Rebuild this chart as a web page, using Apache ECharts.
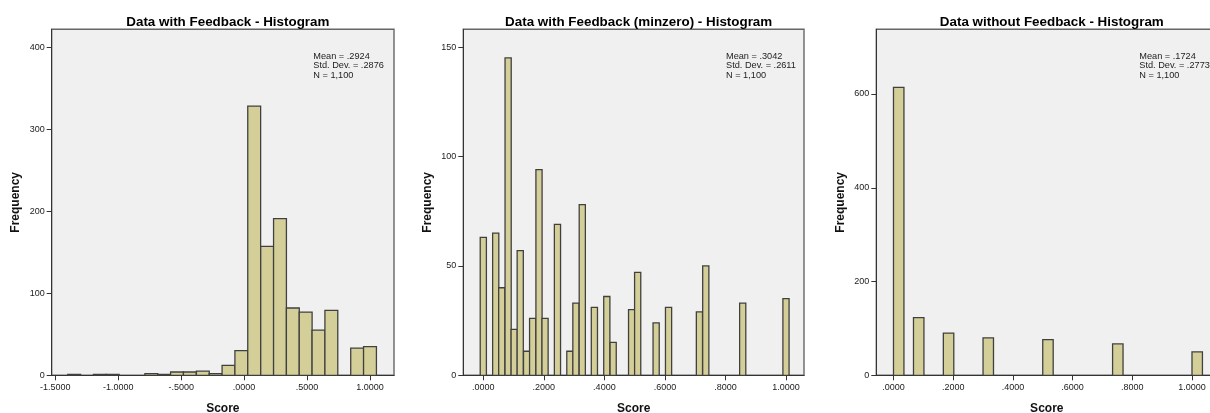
<!DOCTYPE html>
<html>
<head>
<meta charset="utf-8">
<script src="https://cdn.jsdelivr.net/npm/echarts@6/dist/echarts.min.js"></script>
<style>
html,body{margin:0;padding:0;background:#fff;}
#c{width:1210px;height:413px;}
</style>
</head>
<body>
<div id="c"></div>
<script>
// ---- Panel 1: Data with Feedback ----
var p1Title = 'Data with Feedback - Histogram';
var p1Centers = [-1.350, -1.146, -1.044, -0.737, -0.635, -0.533, -0.431, -0.328, -0.226, -0.124, -0.022, 0.080, 0.183, 0.285, 0.387, 0.489, 0.591, 0.693, 0.898, 1.000];
var p1Counts  = [1, 1, 1, 2, 1, 4, 4, 5, 2, 12, 30, 328, 157, 191, 82, 77, 55, 79, 33, 35];
var p1BinWidth = 0.1022;
var p1XTicks = [-1.5, -1.0, -0.5, 0, 0.5, 1.0];
var p1YTicks = [0, 100, 200, 300, 400];
var p1Stats = ['Mean = .2924', 'Std. Dev. = .2876', 'N = 1,100'];

// ---- Panel 2: Data with Feedback (minzero) ----
var p2Title = 'Data with Feedback (minzero) - Histogram';
var p2Centers = [0.000, 0.041, 0.061, 0.082, 0.102, 0.122, 0.143, 0.163, 0.184, 0.204, 0.245, 0.286, 0.306, 0.327, 0.367, 0.408, 0.429, 0.490, 0.510, 0.571, 0.612, 0.714, 0.735, 0.857, 1.000];
var p2Counts  = [63, 65, 40, 145, 21, 57, 11, 26, 94, 26, 69, 11, 33, 78, 31, 36, 15, 30, 47, 24, 31, 29, 50, 33, 35];
var p2BinWidth = 0.0204;
var p2XTicks = [0, 0.2, 0.4, 0.6, 0.8, 1.0];
var p2YTicks = [0, 50, 100, 150];
var p2Stats = ['Mean = .3042', 'Std. Dev. = .2611', 'N = 1,100'];

// ---- Panel 3: Data without Feedback ----
var p3Title = 'Data without Feedback - Histogram';
var p3Starts = [0.000, 0.067, 0.167, 0.300, 0.500, 0.734, 1.000];
var p3Counts = [614, 123, 90, 80, 76, 67, 50];
var p3BinWidth = 0.035;
var p3XTicks = [0, 0.2, 0.4, 0.6, 0.8, 1.0];
var p3YTicks = [0, 200, 400, 600];
var p3Stats = ['Mean = .1724', 'Std. Dev. = .2773', 'N = 1,100'];

var FONT = '"Liberation Sans", Arial, sans-serif';
var BAR_FILL = '#d4cf98';
var BAR_LINE = '#404040';

function fmtScore(v) {
  var s = Number(v).toFixed(4);
  return s.replace(/^(-?)0\./, '$1.');
}

var grids = [
  {left: 51.7, top: 29.3, width: 342.3, height: 346},
  {left: 463.3, top: 29.3, width: 340.7, height: 346},
  {left: 876.3, top: 29.3, width: 341, height: 346}
];
var xRanges = [[-1.5286, 1.1907], [-0.0661, 1.0595], [-0.0576, 1.0848]];
var yMax = [421.6, 158.1, 738];
var xTicks = [p1XTicks, p2XTicks, p3XTicks];
var yTicks = [p1YTicks, p2YTicks, p3YTicks];
var titles = [p1Title, p2Title, p3Title];
var stats = [p1Stats, p2Stats, p3Stats];
var statLeft = [313.3, 726, 1139.3];

function histData(centers, counts, width) {
  return centers.map(function (c, i) { return [c - width / 2, c + width / 2, counts[i]]; });
}
var seriesData = [
  histData(p1Centers, p1Counts, p1BinWidth),
  histData(p2Centers, p2Counts, p2BinWidth),
  p3Starts.map(function (s, i) { return [s, s + p3BinWidth, p3Counts[i]]; })
];

function renderBar(params, api) {
  var p0 = api.coord([api.value(0), api.value(2)]);
  var p1 = api.coord([api.value(1), 0]);
  return {
    type: 'rect',
    shape: {x: p0[0], y: p0[1], width: p1[0] - p0[0], height: p1[1] - p0[1]},
    style: {fill: BAR_FILL, stroke: BAR_LINE, lineWidth: 1.3}
  };
}

var option = {
  backgroundColor: '#ffffff',
  animation: false,
  title: [],
  grid: [],
  xAxis: [],
  yAxis: [],
  series: []
};

for (var i = 0; i < 3; i++) {
  var g = grids[i];
  option.grid.push({
    left: g.left, top: g.top, width: g.width, height: g.height,
    show: true, backgroundColor: '#f0f0f0', borderColor: '#666666', borderWidth: 1.4,
    containLabel: false, outerBoundsMode: 'none'
  });
  option.title.push({
    text: titles[i],
    left: g.left + g.width / 2, top: 11, textAlign: 'center',
    textStyle: {fontFamily: FONT, fontSize: 13.4, fontWeight: 'bold', color: '#000'}
  });
  option.title.push({
    text: stats[i].join('\n'),
    left: statLeft[i], top: 51.5,
    padding: 0,
    textStyle: {fontFamily: FONT, fontSize: 9.2, fontWeight: 'normal', color: '#222', lineHeight: 9.5}
  });
  option.xAxis.push({
    type: 'value', gridIndex: i,
    min: xRanges[i][0], max: xRanges[i][1],
    name: 'Score', nameLocation: 'middle', nameGap: 27,
    nameTextStyle: {fontFamily: FONT, fontSize: 12, fontWeight: 'bold', color: '#111'},
    splitLine: {show: false},
    axisLine: {show: true, onZero: false, lineStyle: {color: '#333', width: 1}},
    axisTick: {show: true, inside: false, length: 5, lineStyle: {color: '#333'}, customValues: xTicks[i]},
    axisLabel: {show: true, margin: 7.5, fontFamily: FONT, fontSize: 9, color: '#222',
      customValues: xTicks[i], formatter: fmtScore, showMinLabel: true, showMaxLabel: true}
  });
  option.yAxis.push({
    type: 'value', gridIndex: i,
    min: 0, max: yMax[i],
    name: 'Frequency', nameLocation: 'middle', nameGap: 30, nameRotate: 90,
    nameTextStyle: {fontFamily: FONT, fontSize: 12, fontWeight: 'bold', color: '#111'},
    splitLine: {show: false},
    axisLine: {show: true, onZero: false, lineStyle: {color: '#333', width: 1}},
    axisTick: {show: true, inside: false, length: 5, lineStyle: {color: '#333'}, customValues: yTicks[i]},
    axisLabel: {show: true, margin: 7, fontFamily: FONT, fontSize: 9, color: '#222',
      customValues: yTicks[i]}
  });
  option.series.push({
    type: 'custom', xAxisIndex: i, yAxisIndex: i,
    renderItem: renderBar,
    encode: {x: [0, 1], y: 2},
    data: seriesData[i],
    clip: true
  });
}

var chart = echarts.init(document.getElementById('c'), null, {renderer: 'canvas'});
chart.setOption(option);
</script>
</body>
</html>
